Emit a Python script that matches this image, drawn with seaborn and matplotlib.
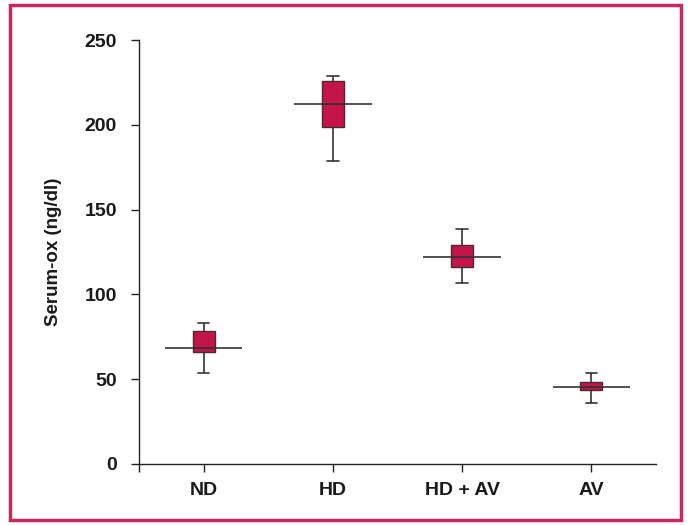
import numpy as np
import pandas as pd
import seaborn as sns
from matplotlib import pyplot as plt
from matplotlib.patches import Rectangle

sns.set_theme(style="ticks")
plt.rcParams['font.family'] = ['Liberation Sans', 'DejaVu Sans']

# Datos (min, Q1, linea central, Q3, max)
groups = ["ND", "HD", "HD + AV", "AV"]
low = [53.6, 178.7, 106.7, 36.0]
q1 = [66.0, 198.7, 116.0, 43.6]
mid = [68.4, 212.3, 122.0, 45.4]
q3 = [78.4, 225.8, 129.0, 48.3]
high = [83.0, 228.8, 138.6, 53.6]

rows = []
for g, a, b, c, d, e in zip(groups, low, q1, mid, q3, high):
    for v in (a, b, c, d, e):
        rows.append({"grupo": g, "valor": v})
df = pd.DataFrame(rows)

box_color = "#C3154A"
edge = "#4a2a30"
border = "#C8285A"
txt = "#1a1a1a"

fig = plt.figure(figsize=(6.88, 5.25), dpi=100)
ax = fig.add_axes([0.202, 0.1162, 0.7515, 0.8076])

sns.boxplot(data=df, x="grupo", y="valor", order=groups, whis=np.inf,
            width=0.17, color=box_color, saturation=1, ax=ax,
            boxprops=dict(facecolor=box_color, edgecolor=edge, linewidth=1),
            whiskerprops=dict(color="#333333", linewidth=1.2),
            capprops=dict(color="#333333", linewidth=1.2),
            medianprops=dict(color="#6a2035", linewidth=0.8),
            capwidths=0.09)

# linea horizontal ancha en cada grupo
for i, m in enumerate(mid):
    ax.hlines(m, i - 0.3, i + 0.3, color="#333333", linewidth=1.2, zorder=5)

ax.set_xlim(-0.5, 3.5)
ax.set_ylim(0, 250)
ax.set_yticks([0, 50, 100, 150, 200, 250])
ax.set_xticks([-0.5], minor=True)
ax.set_xlabel("")
ax.set_ylabel("Serum-ox (ng/dl)", fontsize=13.5, fontweight="bold", labelpad=16, color=txt)
for lab in ax.get_xticklabels() + ax.get_yticklabels():
    lab.set_fontweight("bold")
ax.tick_params(axis="y", labelsize=14, length=6, width=1, pad=10, color="#222222", labelcolor=txt)
ax.tick_params(axis="x", labelsize=14, length=6, width=1, pad=7, color="#222222", labelcolor=txt)
ax.tick_params(axis="x", which="minor", length=6, width=1, color="#222222")
sns.despine(ax=ax)
for s in ["left", "bottom"]:
    ax.spines[s].set_color("#222222")
    ax.spines[s].set_linewidth(1)

# marco exterior
fig.patches.append(Rectangle((0.0145, 0.009), 0.975, 0.982, transform=fig.transFigure,
                             fill=False, edgecolor=border, linewidth=2.5))

fig.savefig("out.png", dpi=100)
